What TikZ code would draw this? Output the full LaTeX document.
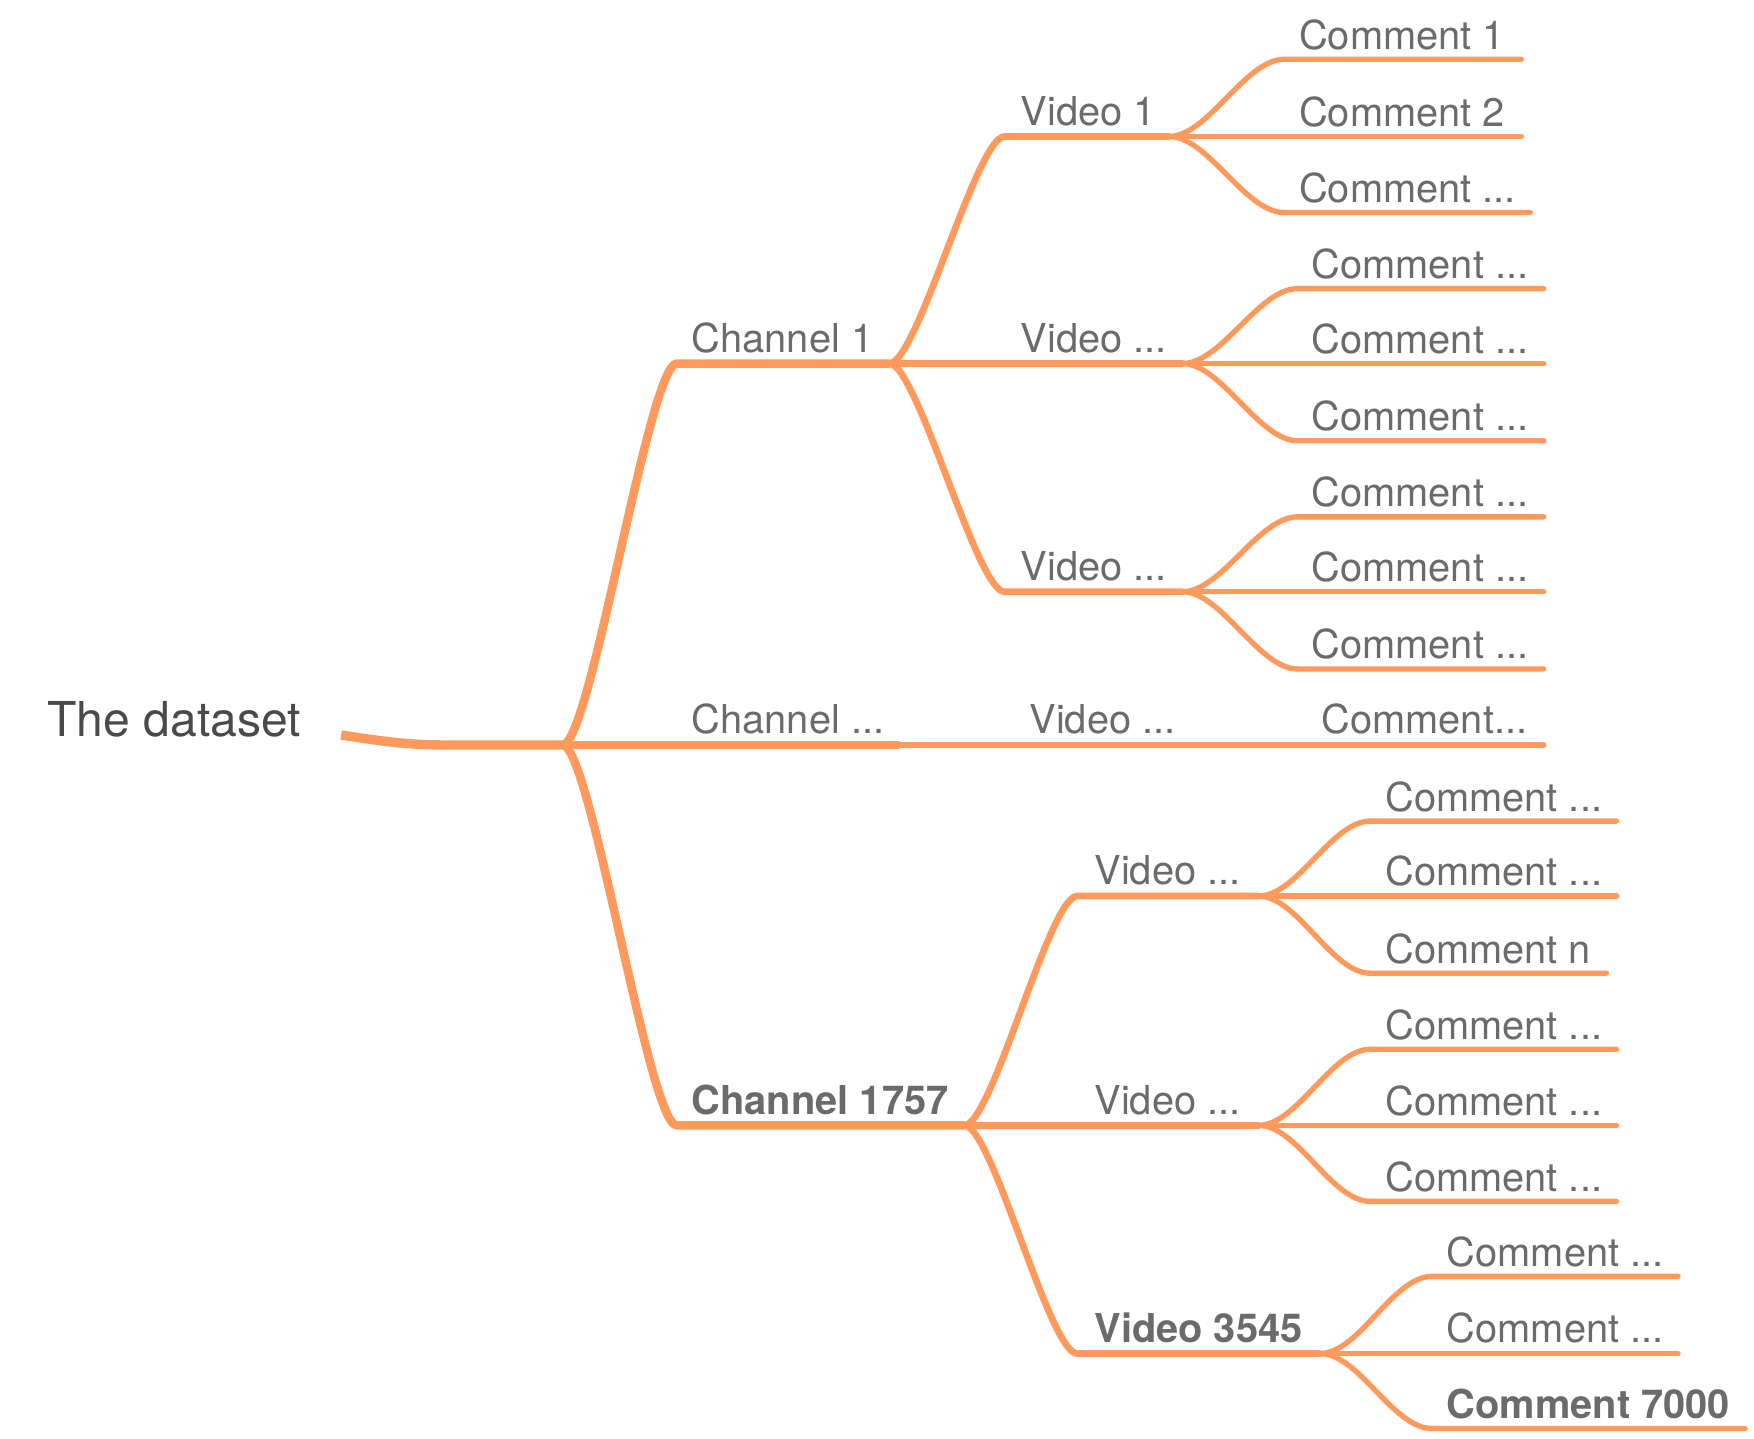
\documentclass[tikz,border=0pt]{standalone}
\usepackage{fontspec}
\setmainfont{TeX Gyre Heros}
\usetikzlibrary{positioning, calc}

\definecolor{ramo}{HTML}{FF9A5C}
\definecolor{texto}{HTML}{6B6B6B}
\definecolor{raiz}{HTML}{4A4A4A}

\tikzset{
  rootline/.style={line width=4.2pt, color=ramo, line cap=butt},
  chanline/.style={line width=3.8pt, color=ramo, line cap=round},
  vidline/.style={line width=3pt, color=ramo, line cap=round},
  comline/.style={line width=2.4pt, color=ramo, line cap=round},
  lbl/.style={anchor=base west, inner sep=0pt, text=texto, font=\fontsize{17.8}{20}\selectfont},
  lblbold/.style={lbl, font=\fontsize{17.8}{20}\selectfont\bfseries},
}

\begin{document}
\begin{tikzpicture}[x=0.5pt, y=-0.5pt]
\useasboundingbox (0,0) rectangle (1568,1286);

% --- RAIZ: o dataset
\node[anchor=base west, inner sep=0pt, text=raiz, font=\fontsize{21.5}{24}\selectfont] (root) at (42,658) {The dataset};
\coordinate (r0) at (305,657);
\coordinate (j0) at (503,666);
\draw[rootline] (r0) .. controls (360,666) and (380,666) .. (410,666) -- (j0);

% --- NIVEL 1: canais
\coordinate (ch1a) at (605,325);  \coordinate (ch1b) at (795,325);
\coordinate (chxb) at (803,666);
\coordinate (chna) at (605,1006); \coordinate (chnb) at (862,1006);

\draw[chanline] (j0) .. controls +(25,0) and +(-25,0) .. (ch1a) -- (ch1b);
\draw[chanline] (j0) -- (chxb);
\draw[chanline] (j0) .. controls +(25,0) and +(-25,0) .. (chna) -- (chnb);

\node[lbl] (ch1) at (618,315) {Channel 1};
\node[lbl] (chx) at (618,656) {Channel ...};
\node[lblbold] (chn) at (618,996) {Channel 1757};

% --- NIVEL 2: videos
\coordinate (v1a) at (898,122);  \coordinate (v1b) at (1045,122);
\coordinate (v2a) at (898,325);  \coordinate (v2b) at (1057,325);
\coordinate (v3a) at (898,529);  \coordinate (v3b) at (1057,529);
\coordinate (vxb) at (1065,666);
\coordinate (v4a) at (963,801);  \coordinate (v4b) at (1125,801);
\coordinate (v5a) at (963,1006); \coordinate (v5b) at (1125,1006);
\coordinate (v6a) at (963,1210); \coordinate (v6b) at (1180,1210);

\draw[vidline] (ch1b) .. controls +(25,0) and +(-25,0) .. (v1a) -- (v1b);
\draw[vidline] (ch1b) -- (v2a) -- (v2b);
\draw[vidline] (ch1b) .. controls +(25,0) and +(-25,0) .. (v3a) -- (v3b);
\draw[vidline] (chxb) -- (vxb);
\draw[vidline] (chnb) .. controls +(25,0) and +(-25,0) .. (v4a) -- (v4b);
\draw[vidline] (chnb) -- (v5a) -- (v5b);
\draw[vidline] (chnb) .. controls +(25,0) and +(-25,0) .. (v6a) -- (v6b);

\node[lbl] (v1) at (912,112) {Video 1};
\node[lbl] (v2) at (912,315) {Video ...};
\node[lbl] (v3) at (912,519) {Video ...};
\node[lbl] (vx) at (920,656) {Video ...};
\node[lbl] (v4) at (978,791) {Video ...};
\node[lbl] (v5) at (978,996) {Video ...};
\node[lblbold] (v6) at (978,1200) {Video 3545};

% --- NIVEL 3: comentarios
\coordinate (k11a) at (1148,53);  \coordinate (k11b) at (1360,53);
\coordinate (k12b) at (1360,122);
\coordinate (k13a) at (1148,190); \coordinate (k13b) at (1368,190);
\coordinate (k21a) at (1160,258); \coordinate (k21b) at (1380,258);
\coordinate (k22b) at (1380,325);
\coordinate (k23a) at (1160,394); \coordinate (k23b) at (1380,394);
\coordinate (k31a) at (1160,462); \coordinate (k31b) at (1380,462);
\coordinate (k32b) at (1380,529);
\coordinate (k33a) at (1160,598); \coordinate (k33b) at (1380,598);
\coordinate (kxb) at (1380,666);
\coordinate (k41a) at (1225,734);  \coordinate (k41b) at (1445,734);
\coordinate (k42b) at (1445,801);
\coordinate (k43a) at (1225,870);  \coordinate (k43b) at (1436,870);
\coordinate (k51a) at (1225,938);  \coordinate (k51b) at (1445,938);
\coordinate (k52b) at (1445,1006);
\coordinate (k53a) at (1225,1074); \coordinate (k53b) at (1445,1074);
\coordinate (k61a) at (1280,1141); \coordinate (k61b) at (1500,1141);
\coordinate (k62b) at (1500,1210);
\coordinate (k63a) at (1280,1277); \coordinate (k63b) at (1560,1277);

\draw[comline] (v1b) .. controls +(35,0) and +(-35,0) .. (k11a) -- (k11b);
\draw[comline] (v1b) -- (k12b);
\draw[comline] (v1b) .. controls +(35,0) and +(-35,0) .. (k13a) -- (k13b);
\draw[comline] (v2b) .. controls +(35,0) and +(-35,0) .. (k21a) -- (k21b);
\draw[comline] (v2b) -- (k22b);
\draw[comline] (v2b) .. controls +(35,0) and +(-35,0) .. (k23a) -- (k23b);
\draw[comline] (v3b) .. controls +(35,0) and +(-35,0) .. (k31a) -- (k31b);
\draw[comline] (v3b) -- (k32b);
\draw[comline] (v3b) .. controls +(35,0) and +(-35,0) .. (k33a) -- (k33b);
\draw[comline] (vxb) -- (kxb);
\draw[comline] (v4b) .. controls +(35,0) and +(-35,0) .. (k41a) -- (k41b);
\draw[comline] (v4b) -- (k42b);
\draw[comline] (v4b) .. controls +(35,0) and +(-35,0) .. (k43a) -- (k43b);
\draw[comline] (v5b) .. controls +(35,0) and +(-35,0) .. (k51a) -- (k51b);
\draw[comline] (v5b) -- (k52b);
\draw[comline] (v5b) .. controls +(35,0) and +(-35,0) .. (k53a) -- (k53b);
\draw[comline] (v6b) .. controls +(35,0) and +(-35,0) .. (k61a) -- (k61b);
\draw[comline] (v6b) -- (k62b);
\draw[comline] (v6b) .. controls +(35,0) and +(-35,0) .. (k63a) -- (k63b);

\node[lbl] (k11) at (1161,44) {Comment 1};
\node[lbl] (k12) at (1161,113) {Comment 2};
\node[lbl] (k13) at (1161,181) {Comment ...};
\node[lbl] (k21) at (1172,249) {Comment ...};
\node[lbl] (k22) at (1172,316) {Comment ...};
\node[lbl] (k23) at (1172,385) {Comment ...};
\node[lbl] (k31) at (1172,453) {Comment ...};
\node[lbl] (k32) at (1172,520) {Comment ...};
\node[lbl] (k33) at (1172,589) {Comment ...};
\node[lbl] (kx) at (1181,656) {Comment...};
\node[lbl] (k41) at (1238,725) {Comment ...};
\node[lbl] (k42) at (1238,792) {Comment ...};
\node[lbl] (k43) at (1238,861) {Comment n};
\node[lbl] (k51) at (1238,929) {Comment ...};
\node[lbl] (k52) at (1238,997) {Comment ...};
\node[lbl] (k53) at (1238,1065) {Comment ...};
\node[lbl] (k61) at (1293,1132) {Comment ...};
\node[lbl] (k62) at (1293,1200) {Comment ...};
\node[lblbold] (k63) at (1293,1268) {Comment 7000};
\end{tikzpicture}
\end{document}
